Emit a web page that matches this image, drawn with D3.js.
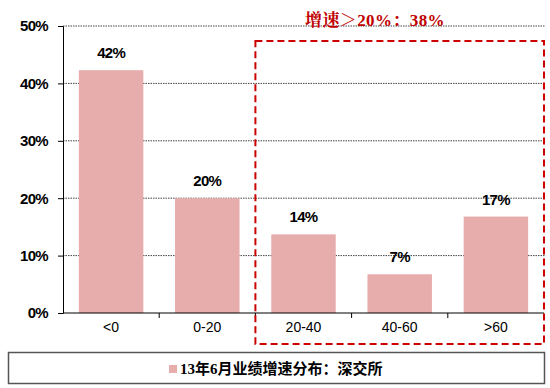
<!DOCTYPE html>
<html>
  <head>
    <meta charset="utf-8" />
    <script src="https://d3js.org/d3.v7.min.js"></script>
    <style>
      body { margin: 0; background: #fff; }
    </style>
  </head>
  <body>
    <script>
      // chart data
      const categories = ["<0", "0-20", "20-40", "40-60", ">60"];
      const values = [42.3, 20.0, 13.7, 6.75, 16.8];
      const valueLabels = ["42%", "20%", "14%", "7%", "17%"];
      const yTicks = [0, 10, 20, 30, 40, 50];
      const legendText = "13年6月业绩增速分布：深交所";
      const noteText = "增速＞20%：38%";

      const width = 550, height = 388;
      const plotL = 63, plotR = 544, plotT = 26, plotB = 313;

      const svg = d3.select("body").append("svg")
        .attr("width", width)
        .attr("height", height);

      const x = d3.scaleBand().domain(categories).range([plotL, plotR]).paddingInner(0.33).paddingOuter(0.165);
      const xb = d3.scaleBand().domain(categories).range([plotL, plotR]);
      const y = d3.scaleLinear().domain([0, 50]).range([plotB, plotT]);

      // gridlines
      svg.selectAll("line.grid")
        .data(yTicks.filter(d => d > 0))
        .enter().append("line")
        .attr("class", "grid")
        .attr("x1", plotL).attr("x2", plotR + 1)
        .attr("y1", d => y(d)).attr("y2", d => y(d))
        .attr("stroke", "#444")
        .attr("stroke-width", 1)
        .attr("stroke-dasharray", "1.5,1");

      // bars
      svg.selectAll("rect.bar")
        .data(values)
        .enter().append("rect")
        .attr("class", "bar")
        .attr("x", (d, i) => x(categories[i]))
        .attr("width", x.bandwidth())
        .attr("y", d => y(d))
        .attr("height", d => plotB - y(d))
        .attr("fill", "#E7ACAC");

      // value labels
      svg.selectAll("text.val")
        .data(values)
        .enter().append("text")
        .attr("x", (d, i) => x(categories[i]) + x.bandwidth() / 2)
        .attr("y", d => y(d) - 12)
        .attr("text-anchor", "middle")
        .attr("font-family", "Liberation Sans, Arial, sans-serif")
        .attr("font-weight", "bold")
        .attr("font-size", "15px")
        .attr("letter-spacing", "-0.7px")
        .attr("fill", "#000")
        .text((d, i) => valueLabels[i]);

      // y axis
      const yAxis = d3.axisLeft(y).tickValues(yTicks).tickSize(5).tickFormat(d => d + "%");
      const gy = svg.append("g").attr("transform", `translate(${plotL},0)`).call(yAxis);
      gy.select(".domain").attr("stroke", "#000");
      gy.selectAll(".tick line").attr("stroke", "#000");
      gy.selectAll(".tick text")
        .attr("x", -15)
        .attr("font-family", "Liberation Sans, Arial, sans-serif")
        .attr("font-weight", "bold")
        .attr("font-size", "15px")
        .attr("letter-spacing", "-0.7px")
        .attr("fill", "#000");

      // x axis
      svg.append("line")
        .attr("x1", plotL).attr("x2", plotR)
        .attr("y1", plotB).attr("y2", plotB)
        .attr("stroke", "#000");
      svg.selectAll("line.xtick")
        .data(categories.slice(1))
        .enter().append("line")
        .attr("x1", d => xb(d)).attr("x2", d => xb(d))
        .attr("y1", plotB).attr("y2", plotB + 5)
        .attr("stroke", "#000");
      svg.selectAll("text.xlab")
        .data(categories)
        .enter().append("text")
        .attr("x", d => xb(d) + xb.bandwidth() / 2)
        .attr("y", plotB + 19)
        .attr("text-anchor", "middle")
        .attr("font-family", "Liberation Sans, Arial, sans-serif")
        .attr("font-size", "14px")
        .attr("fill", "#000")
        .text(d => d);

      // red dashed highlight box around the >20 groups
      const boxL = xb(categories[2]);
      svg.append("rect")
        .attr("x", boxL)
        .attr("y", 41)
        .attr("width", plotR - boxL)
        .attr("height", 303)
        .attr("fill", "none")
        .attr("stroke", "#CC0000")
        .attr("stroke-width", 2)
        .attr("stroke-dasharray", "7,4");

      svg.append("text")
        .attr("x", 305)
        .attr("y", 26)
        .attr("font-family", "Liberation Serif, 'Noto Serif CJK SC', serif")
        .attr("font-weight", "bold")
        .attr("font-size", "17px")
        .attr("letter-spacing", "0.4px")
        .attr("fill", "#C00000")
        .text(noteText);

      // legend
      svg.append("rect")
        .attr("x", 8.5).attr("y", 352.5)
        .attr("width", 536).attr("height", 31)
        .attr("fill", "#fff")
        .attr("stroke", "#555")
        .attr("stroke-width", 1.5);
      svg.append("rect")
        .attr("x", 169).attr("y", 365)
        .attr("width", 8).attr("height", 8)
        .attr("fill", "#E7ACAC");
      svg.append("text")
        .attr("x", 180)
        .attr("y", 374)
        .attr("font-family", "Liberation Serif, 'Noto Sans CJK SC', serif")
        .attr("font-weight", "bold")
        .attr("font-size", "15px")
        .attr("fill", "#000")
        .text(legendText);
    </script>
  </body>
</html>
